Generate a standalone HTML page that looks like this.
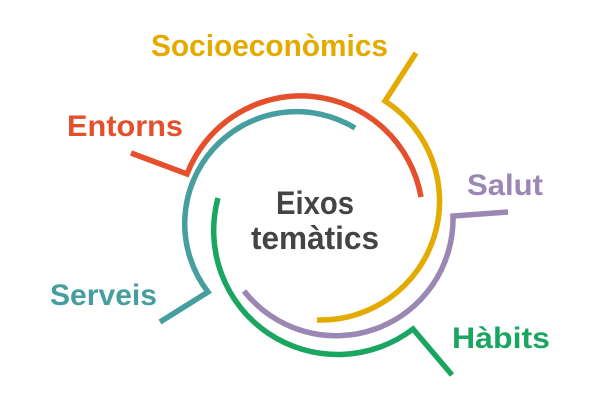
<!DOCTYPE html>
<html><head><meta charset="utf-8"><style>
html,body{margin:0;padding:0;background:#fff;}
svg{display:block;}
text{font-family:"Liberation Sans",sans-serif;font-weight:bold;}
</style></head><body>
<svg width="600" height="400" viewBox="0 0 600 400" xmlns="http://www.w3.org/2000/svg">
<g fill="none" stroke-width="5.5" stroke-linejoin="miter">
<path d="M131,153 L187,174 A122,122 0 0 1 421,197" stroke="#e4502b"/>
<path d="M416,53 L385,101 A119,119 0 0 1 317,320" stroke="#e3aa00"/>
<path d="M508,212 L453,216 A117,117 0 0 1 244,291" stroke="#9b87b3"/>
<path d="M452,375 L413,329 A124,124 0 0 1 218,198" stroke="#1aa561"/>
<path d="M160,322 L208,292 A112,112 0 0 1 355,128" stroke="#479e9e"/>
</g>
<text x="151" y="56" font-size="31" fill="#e3aa00" textLength="237" lengthAdjust="spacingAndGlyphs">Socioeconòmics</text>
<text x="67" y="136" font-size="30" fill="#e4502b" textLength="116" lengthAdjust="spacingAndGlyphs">Entorns</text>
<text x="467" y="195" font-size="30" fill="#9b87b3" textLength="76" lengthAdjust="spacingAndGlyphs">Salut</text>
<text x="50" y="305" font-size="30" fill="#479e9e" textLength="107" lengthAdjust="spacingAndGlyphs">Serveis</text>
<text x="452" y="348" font-size="30" fill="#1aa561" textLength="98" lengthAdjust="spacingAndGlyphs">Hàbits</text>
<text x="315" y="214" font-size="32" fill="#444" text-anchor="middle" textLength="78" lengthAdjust="spacingAndGlyphs">Eixos</text>
<text x="315" y="249" font-size="32" fill="#444" text-anchor="middle" textLength="128" lengthAdjust="spacingAndGlyphs">temàtics</text>
</svg>
</body></html>
